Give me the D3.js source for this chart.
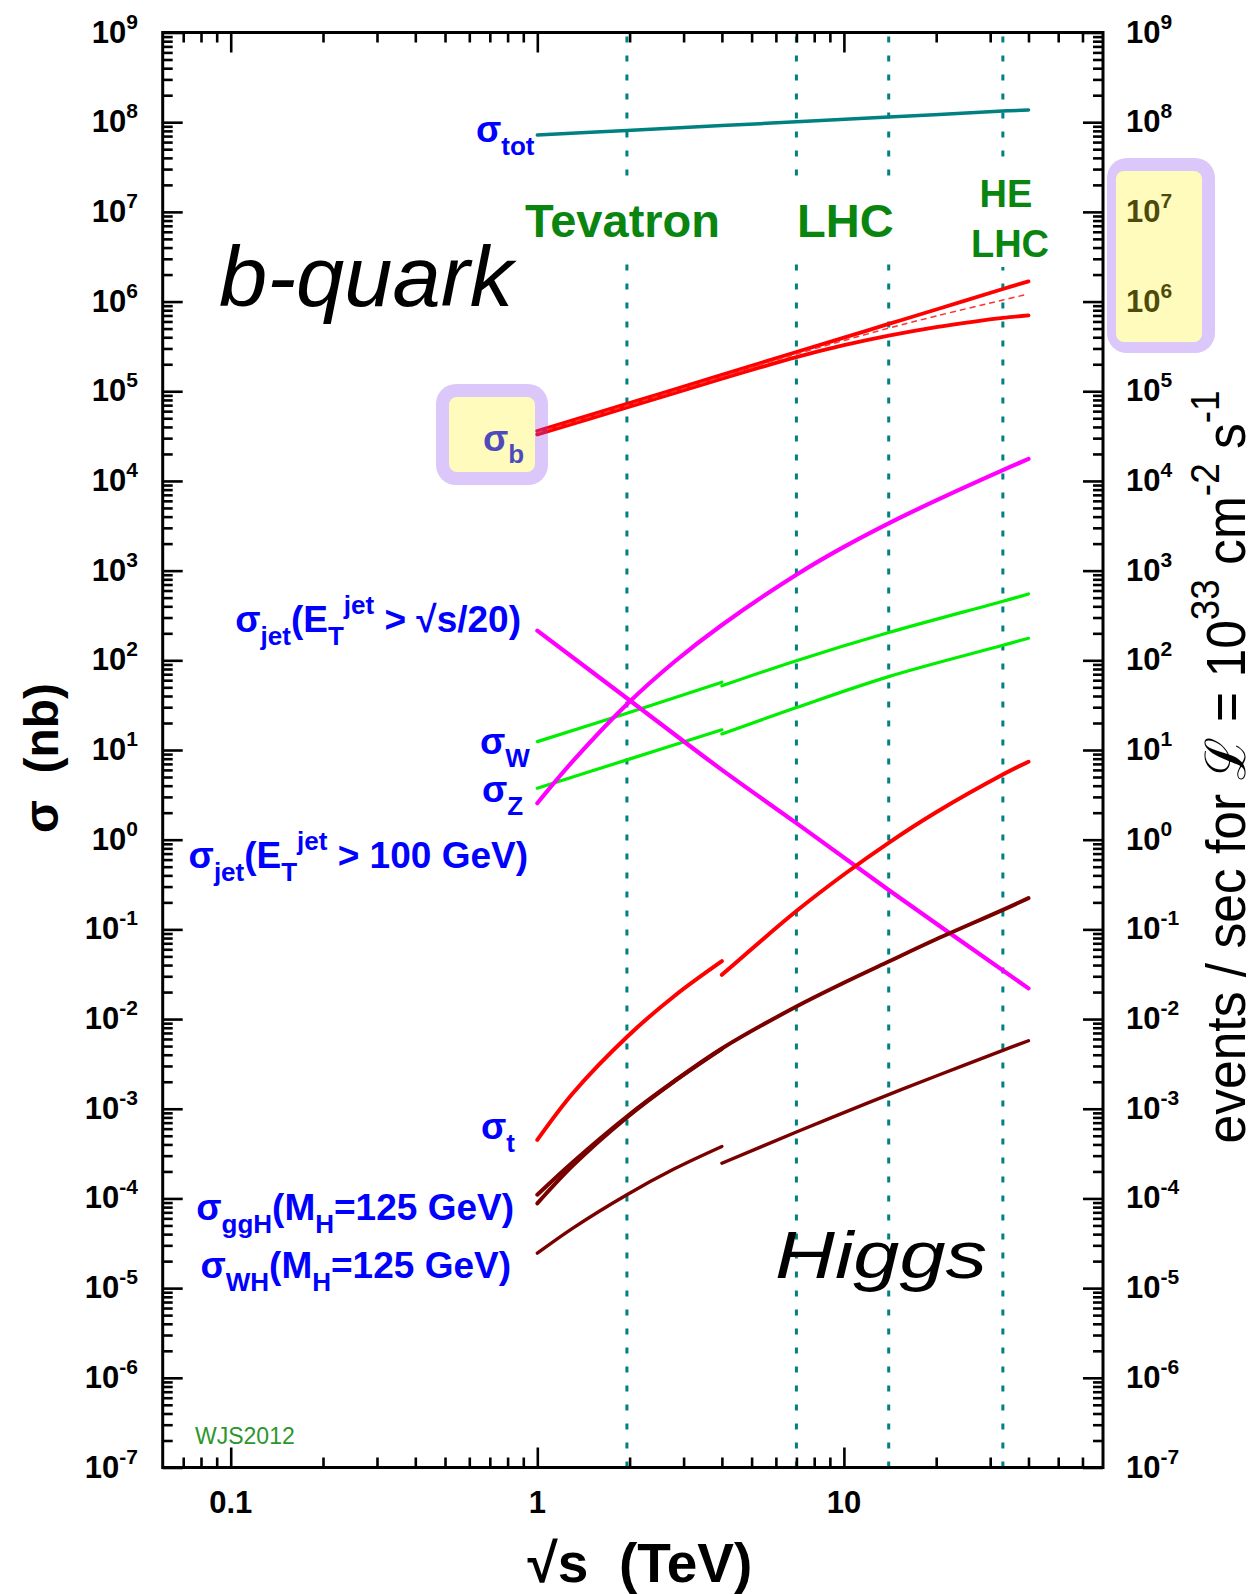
<!DOCTYPE html>
<html>
<head>
<meta charset="utf-8">
<script src="https://cdn.jsdelivr.net/npm/d3@7"></script>
<style>
  body { margin: 0; background: #fff; }
  svg text { font-family: "Liberation Sans", Arial, Helvetica, sans-serif; }
</style>
</head>
<body>
<svg id="chart" width="1258" height="1594"></svg>
<script>
// ---- axis definitions -------------------------------------------------
const xDomain = [0.06, 70];                 // sqrt(s) in TeV
const yDomain = [1e-7, 1e9];                // sigma in nb
const xMajorTicks = [0.1, 1, 10];
const xTickLabels = ["0.1", "1", "10"];
const yExponents = [9, 8, 7, 6, 5, 4, 3, 2, 1, 0, -1, -2, -3, -4, -5, -6, -7];

// collider energies (TeV): Tevatron, LHC 7, LHC 14, HE-LHC 33
const colliderEnergies = [1.96, 7, 14, 33];

// ---- cross sections: [sqrt(s) TeV, sigma nb] --------------------------
const sigmaTot = [[1, 7.2e7], [1.96, 8.1e7], [4, 9.16e7], [7, 1.01e8], [14, 1.14e8], [33, 1.33e8], [40, 1.37e8]];

const sigmaBUpper = [[1, 3.6e4], [1.96, 7.24e4], [4, 1.52e5], [7, 2.74e5], [10, 3.96e5], [14, 5.63e5], [20, 8.16e5], [33, 1.38e6], [40, 1.68e6]];
const sigmaBLower = [[1, 3.3e4], [1.96, 6.6e4], [4, 1.38e5], [7, 2.4e5], [10, 3.26e5], [14, 4.17e5], [20, 5.19e5], [27, 6.03e5], [33, 6.56e5], [40, 7.0e5]];
const sigmaBCentral = [[1, 3.45e4], [1.96, 6.9e4], [4, 1.45e5], [7, 2.6e5], [10, 3.68e5], [14, 5.05e5], [20, 6.9e5], [33, 1.04e6], [39, 1.19e6]];

const sigmaJetScaled = [[1, 214], [1.96, 37.8], [4, 6.0], [7, 1.53], [14, 0.275], [40, 0.022]];
const sigmaJet100 = [[1, 2.55], [1.31, 7.6], [1.96, 32.4], [2.8, 96.4], [4, 248], [7, 899], [10, 1837], [14, 3365], [20, 6067], [33, 1.32e4], [40, 1.76e4]];

const sigmaWppbar = [[1, 12.4], [1.96, 25.7], [4, 57]];
const sigmaWpp = [[4, 51.9], [7, 99], [14, 204], [33, 455], [40, 550]];
const sigmaZppbar = [[1, 3.75], [1.96, 7.76], [4, 16.8]];
const sigmaZpp = [[4, 15.1], [7, 29.7], [14, 65.8], [33, 147], [40, 176]];

const sigmaTopPpbar = [[1, 4.5e-4], [1.31, 1.51e-3], [1.96, 6.32e-3], [2.8, 0.0181], [4, 0.0442]];
const sigmaTopPp = [[4, 0.0311], [7, 0.16], [10, 0.409], [14, 0.923], [20, 2.02], [33, 5.32], [40, 7.4]];

const sigmaGgH = [[1, 1.1e-4], [1.31, 2.57e-4], [1.96, 8.2e-4], [2.8, 2.04e-3], [4, 4.7e-3], [7, 0.0138], [10, 0.0254], [14, 0.0438], [20, 0.0775], [33, 0.165], [40, 0.223]];
const sigmaGgHppbar = [[1, 8.8e-5], [1.31, 2.35e-4], [1.96, 8.0e-4], [2.8, 2.02e-3], [4, 4.65e-3]];
const sigmaWHppbar = [[1, 2.45e-5], [1.31, 4.7e-5], [1.96, 1.1e-4], [2.8, 2.14e-4], [4, 3.8e-4]];
const sigmaWHpp = [[4, 2.47e-4], [7, 5.5e-4], [10, 9.06e-4], [14, 1.44e-3], [20, 2.32e-3], [33, 4.48e-3], [40, 5.73e-3]];

// ---- drawing styles for each curve ------------------------------------
const curves = [
  { data: sigmaTot,       color: "#008080", width: 3.5 },
  { data: sigmaBLower,    color: "#ff0000", width: 3.8 },
  { data: sigmaBUpper,    color: "#ff0000", width: 3.8 },
  { data: sigmaBCentral,  color: "#ff3030", width: 1.5, dash: "6,4" },
  { data: sigmaWppbar,    color: "#00ee00", width: 3.2 },
  { data: sigmaWpp,       color: "#00ee00", width: 3.2 },
  { data: sigmaZppbar,    color: "#00ee00", width: 3.2 },
  { data: sigmaZpp,       color: "#00ee00", width: 3.2 },
  { data: sigmaJetScaled, color: "#ff00ff", width: 4.2 },
  { data: sigmaJet100,    color: "#ff00ff", width: 4.2 },
  { data: sigmaTopPpbar,  color: "#ff0000", width: 4 },
  { data: sigmaTopPp,     color: "#ff0000", width: 4 },
  { data: sigmaGgHppbar,  color: "#7a0000", width: 4 },
  { data: sigmaGgH,       color: "#7a0000", width: 4 },
  { data: sigmaWHppbar,   color: "#7a0000", width: 3.4 },
  { data: sigmaWHpp,      color: "#7a0000", width: 3.4 }
];

// ---- scales -----------------------------------------------------------
const plotLeft = 162.7, plotRight = 1103, plotTop = 32.5, plotBottom = 1467.5;
const x = d3.scaleLog().domain(xDomain).range([plotLeft, plotRight]);
const y = d3.scaleLog().domain(yDomain).range([plotBottom, plotTop]);

const svg = d3.select("#chart");
svg.append("rect").attr("width", 1258).attr("height", 1594).attr("fill", "#fff");

const BLUE = "#0000ff", GREEN = "#0a850f";
const NB = "\u00A0";

// text with sub/superscript pieces: parts = [[string, "sub"|"sup"|""], ...]
function richText(g, px, py, parts, o) {
  const t = g.append("text").attr("x", px).attr("y", py)
    .attr("font-size", o.size).attr("font-weight", o.weight || "bold")
    .attr("fill", o.fill).attr("text-anchor", o.anchor || "start");
  let cur = 0;
  parts.forEach(([s, kind]) => {
    const target = kind === "sub" ? o.subDy : kind === "sup" ? o.supDy : 0;
    const ts = t.append("tspan").attr("dy", target - cur).text(s);
    if (kind) ts.attr("font-size", o.small);
    cur = target;
  });
  return t;
}

// ---- collider lines with knock-out boxes for their names ---------------
const vlines = svg.append("g");
colliderEnergies.forEach(e => {
  vlines.append("line")
    .attr("x1", x(e)).attr("x2", x(e)).attr("y1", plotTop + 4).attr("y2", plotBottom)
    .attr("stroke", "#008080").attr("stroke-width", 3).attr("stroke-dasharray", "6,13");
});
const knock = svg.append("g").attr("fill", "#fff");
knock.append("rect").attr("x", 512).attr("y", 181).attr("width", 222).attr("height", 72);
knock.append("rect").attr("x", 786).attr("y", 181).attr("width", 110).attr("height", 72);
knock.append("rect").attr("x", 966).attr("y", 161).attr("width", 90).attr("height", 106);

const names = svg.append("g").attr("fill", GREEN).attr("font-weight", "bold");
names.append("text").attr("x", 525).attr("y", 237).attr("font-size", 47).text("Tevatron");
names.append("text").attr("x", 797).attr("y", 237).attr("font-size", 47).text("LHC");
names.append("text").attr("x", 1006).attr("y", 207).attr("font-size", 38).attr("text-anchor", "middle").text("HE");
names.append("text").attr("x", 1010).attr("y", 257).attr("font-size", 38).attr("text-anchor", "middle").text("LHC");

// ---- curves ------------------------------------------------------------
const line = d3.line().x(d => x(d[0])).y(d => y(d[1])).curve(d3.curveCatmullRom.alpha(0.5));
const cg = svg.append("g").attr("fill", "none").attr("stroke-linecap", "round").attr("stroke-linejoin", "round");
curves.forEach(c => {
  const p = cg.append("path").attr("d", line(c.data))
    .attr("stroke", c.color).attr("stroke-width", c.width);
  if (c.dash) p.attr("stroke-dasharray", c.dash).attr("stroke-linecap", "butt");
});

// ---- frame and ticks ---------------------------------------------------
const axes = svg.append("g");
const xMinor = [], yMinor = [];
for (let k = -2; k <= 1; k++) for (let m = 2; m <= 9; m++) {
  const v = m * Math.pow(10, k);
  if (v > xDomain[0] && v < xDomain[1]) xMinor.push(v);
}
const yMajor = yExponents.map(e => Math.pow(10, e));
for (let k = -7; k <= 8; k++) for (let m = 2; m <= 9; m++) yMinor.push(m * Math.pow(10, k));

function ticks(axisFn, scale, values, size, tr) {
  axes.append("g").attr("transform", tr)
    .call(axisFn(scale).tickValues(values).tickSize(-size).tickSizeOuter(0).tickFormat(""))
    .call(g => g.select(".domain").remove())
    .call(g => g.selectAll(".tick line").attr("stroke", "#000").attr("stroke-width", 2.6));
}
[[xMajorTicks, 20], [xMinor, 10]].forEach(([v, s]) => {
  ticks(d3.axisBottom, x, v, s, `translate(0,${plotBottom})`);
  ticks(d3.axisTop, x, v, s, `translate(0,${plotTop})`);
});
[[yMajor, 20], [yMinor, 10]].forEach(([v, s]) => {
  ticks(d3.axisLeft, y, v, s, `translate(${plotLeft},0)`);
  ticks(d3.axisRight, y, v, s, `translate(${plotRight},0)`);
});
axes.append("rect").attr("x", plotLeft).attr("y", plotTop)
  .attr("width", plotRight - plotLeft).attr("height", plotBottom - plotTop)
  .attr("fill", "none").attr("stroke", "#000").attr("stroke-width", 3);

// tick labels
const tl = svg.append("g");
const tickOpt = { size: 31, small: 21, supDy: -14, subDy: 0, fill: "#000" };
yExponents.forEach(e => {
  const yy = y(Math.pow(10, e)) + 10;
  richText(tl, 138, yy, [["10", ""], [String(e), "sup"]], { ...tickOpt, anchor: "end" });
  richText(tl, 1126, yy, [["10", ""], [String(e), "sup"]], { ...tickOpt, anchor: "start" });
});
xMajorTicks.forEach((v, i) => {
  tl.append("text").attr("x", x(v)).attr("y", 1513).attr("text-anchor", "middle")
    .attr("font-size", 31).attr("font-weight", "bold").text(xTickLabels[i]);
});

// axis titles
svg.append("text").attr("x", 640).attr("y", 1582).attr("text-anchor", "middle")
  .attr("font-size", 55).attr("font-weight", "bold").text("\u221As" + NB + NB + "(TeV)");
svg.append("text").attr("transform", "translate(58,758) rotate(-90)").attr("text-anchor", "middle")
  .attr("font-size", 48).attr("font-weight", "bold").text("\u03C3" + NB + NB + "(nb)");
richText(svg.append("g").attr("transform", "translate(1245,767) rotate(-90)"), 0, 0,
  [["events / sec for \u2112 = 10", ""], ["33", "sup"], [" cm", ""], ["-2", "sup"], [" s", ""], ["-1", "sup"]],
  { size: 56, small: 40, supDy: -26, subDy: 0, fill: "#000", weight: "normal", anchor: "middle" })
  .attr("textLength", 753).attr("lengthAdjust", "spacingAndGlyphs");

// ---- curve labels --------------------------------------------------------
const lab = svg.append("g");
const lo = { size: 37, small: 26, subDy: 13, supDy: -18, fill: BLUE };
richText(lab, 476, 142, [["\u03C3", ""], ["tot", "sub"]], lo);
richText(lab, 521, 632, [["\u03C3", ""], ["jet", "sub"], ["(E", ""], ["T", "sub"], ["jet", "sup"], [" > \u221As/20)", ""]], { ...lo, anchor: "end" });
richText(lab, 480, 754, [["\u03C3", ""], ["W", "sub"]], lo);
richText(lab, 482, 802, [["\u03C3", ""], ["Z", "sub"]], lo);
richText(lab, 528, 868, [["\u03C3", ""], ["jet", "sub"], ["(E", ""], ["T", "sub"], ["jet", "sup"], [" > 100 GeV)", ""]], { ...lo, anchor: "end" });
richText(lab, 515, 1139, [["\u03C3", ""], ["t", "sub"]], { ...lo, anchor: "end" });
richText(lab, 514, 1220, [["\u03C3", ""], ["ggH", "sub"], ["(M", ""], ["H", "sub"], ["=125 GeV)", ""]], { ...lo, anchor: "end" });
richText(lab, 511, 1278, [["\u03C3", ""], ["WH", "sub"], ["(M", ""], ["H", "sub"], ["=125 GeV)", ""]], { ...lo, anchor: "end" });
richText(lab, 483, 451, [["\u03C3", ""], ["b", "sub"]], { ...lo, subDy: 12 });

svg.append("text").attr("x", 195).attr("y", 1444).attr("font-size", 23)
  .attr("fill", "#2c962c").text("WJS2012");

// handwritten annotations
svg.append("text").attr("x", 219).attr("y", 306).attr("font-size", 86)
  .attr("font-family", "'Liberation Serif', 'DejaVu Serif', serif").attr("font-style", "italic")
  .attr("textLength", 294).attr("lengthAdjust", "spacingAndGlyphs").text("b-quark");
svg.append("text").attr("x", 775).attr("y", 1278).attr("font-size", 66)
  .attr("font-family", "'Liberation Serif', 'DejaVu Serif', serif").attr("font-style", "italic")
  .attr("textLength", 212).attr("lengthAdjust", "spacingAndGlyphs").text("Higgs");

// ---- translucent highlight boxes -----------------------------------------
function highlight(o, i) {
  const g = svg.append("g").attr("opacity", 0.3);
  g.append("rect").attr("x", o[0]).attr("y", o[1]).attr("width", o[2] - o[0]).attr("height", o[3] - o[1])
    .attr("rx", 20).attr("fill", "rgb(138,72,238)");
  g.append("rect").attr("x", i[0]).attr("y", i[1]).attr("width", i[2] - i[0]).attr("height", i[3] - i[1])
    .attr("rx", 8).attr("fill", "rgb(255,245,38)");
}
highlight([436, 384, 548, 485], [449, 397, 535, 472]);
highlight([1107, 158, 1215, 353], [1116, 171, 1202, 342]);
</script>
</body>
</html>
